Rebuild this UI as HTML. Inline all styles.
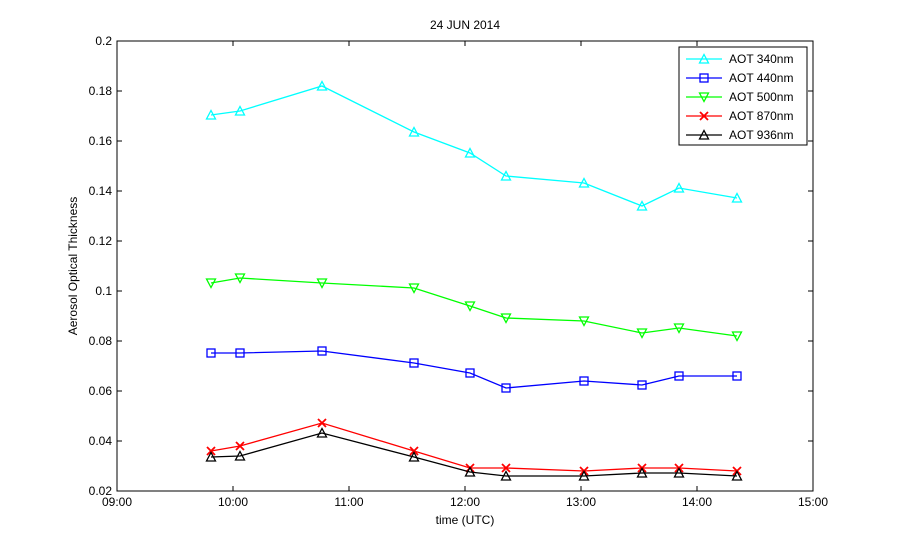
<!DOCTYPE html>
<html><head><style>body{margin:0;background:#fff}svg text{font-family:"Liberation Sans",sans-serif;font-size:12px}</style></head><body>
<svg width="899" height="552" xmlns="http://www.w3.org/2000/svg">
<rect width="899" height="552" fill="#fff"/>
<rect x="117" y="41" width="696" height="450" fill="#fff" stroke="#000" stroke-width="1"/>
<g stroke="#000" stroke-width="1">
<path d="M233,491v-5M349,491v-5M465,491v-5M581,491v-5M697,491v-5M233,41v5M349,41v5M465,41v5M581,41v5M697,41v5"/>
<path d="M117,441h5M117,391h5M117,341h5M117,291h5M117,241h5M117,191h5M117,141h5M117,91h5M813,441h-5M813,391h-5M813,341h-5M813,291h-5M813,241h-5M813,191h-5M813,141h-5M813,91h-5"/>
</g>
<g text-anchor="end">
<text x="112" y="495">0.02</text><text x="112" y="445">0.04</text><text x="112" y="395">0.06</text><text x="112" y="345">0.08</text><text x="112" y="295">0.1</text><text x="112" y="245">0.12</text><text x="112" y="195">0.14</text><text x="112" y="145">0.16</text><text x="112" y="95">0.18</text><text x="112" y="45">0.2</text>
</g>
<g text-anchor="middle">
<text x="117" y="506">09:00</text><text x="233" y="506">10:00</text><text x="349" y="506">11:00</text><text x="465" y="506">12:00</text><text x="581" y="506">13:00</text><text x="697" y="506">14:00</text><text x="813" y="506">15:00</text>
<text x="465" y="524">time  (UTC)</text>
<text x="465" y="29">24 JUN 2014</text>
<text transform="translate(77,266) rotate(-90)">Aerosol Optical Thickness</text>
</g>
<defs>
<path id="tu" d="M-4.5,4h9L0,-4.5z" fill="none" stroke-width="1.3"/>
<path id="td" d="M-4.5,-4h9L0,4.5z" fill="none" stroke-width="1.3"/>
<rect id="sq" x="-4" y="-4" width="8" height="8" fill="none" stroke-width="1.3"/>
<path id="xx" d="M-4,-4L4,4M-4,4L4,-4" stroke-width="1.8"/>
</defs>
<g stroke="#00ffff" stroke-width="1.3" fill="none">
<polyline points="211,115 240,111 322,86 414,132 470,153 506,176 584,183 642,206 679,188 737,198"/>
<use href="#tu" x="211" y="115"/><use href="#tu" x="240" y="111"/><use href="#tu" x="322" y="86"/><use href="#tu" x="414" y="132"/><use href="#tu" x="470" y="153"/><use href="#tu" x="506" y="176"/><use href="#tu" x="584" y="183"/><use href="#tu" x="642" y="206"/><use href="#tu" x="679" y="188"/><use href="#tu" x="737" y="198"/>
</g>
<g stroke="#0000ff" stroke-width="1.3" fill="none">
<polyline points="211,353 240,353 322,351 414,363 470,373 506,388 584,381 642,385 679,376 737,376"/>
<use href="#sq" x="211" y="353"/><use href="#sq" x="240" y="353"/><use href="#sq" x="322" y="351"/><use href="#sq" x="414" y="363"/><use href="#sq" x="470" y="373"/><use href="#sq" x="506" y="388"/><use href="#sq" x="584" y="381"/><use href="#sq" x="642" y="385"/><use href="#sq" x="679" y="376"/><use href="#sq" x="737" y="376"/>
</g>
<g stroke="#00ff00" stroke-width="1.3" fill="none">
<polyline points="211,283 240,278 322,283 414,288 470,306 506,318 584,321 642,333 679,328 737,336"/>
<use href="#td" x="211" y="283"/><use href="#td" x="240" y="278"/><use href="#td" x="322" y="283"/><use href="#td" x="414" y="288"/><use href="#td" x="470" y="306"/><use href="#td" x="506" y="318"/><use href="#td" x="584" y="321"/><use href="#td" x="642" y="333"/><use href="#td" x="679" y="328"/><use href="#td" x="737" y="336"/>
</g>
<g stroke="#ff0000" stroke-width="1.3" fill="none">
<polyline points="211,451 240,446 322,423 414,451 470,468 506,468 584,471 642,468 679,468 737,471"/>
<use href="#xx" x="211" y="451"/><use href="#xx" x="240" y="446"/><use href="#xx" x="322" y="423"/><use href="#xx" x="414" y="451"/><use href="#xx" x="470" y="468"/><use href="#xx" x="506" y="468"/><use href="#xx" x="584" y="471"/><use href="#xx" x="642" y="468"/><use href="#xx" x="679" y="468"/><use href="#xx" x="737" y="471"/>
</g>
<g stroke="#000" stroke-width="1.3" fill="none">
<polyline points="211,457 240,456 322,433 414,457 470,472 506,476 584,476 642,473 679,473 737,476"/>
<use href="#tu" x="211" y="457"/><use href="#tu" x="240" y="456"/><use href="#tu" x="322" y="433"/><use href="#tu" x="414" y="457"/><use href="#tu" x="470" y="472"/><use href="#tu" x="506" y="476"/><use href="#tu" x="584" y="476"/><use href="#tu" x="642" y="473"/><use href="#tu" x="679" y="473"/><use href="#tu" x="737" y="476"/>
</g>
<rect x="679" y="47" width="128" height="98" fill="#fff" stroke="#000"/>
<g stroke-width="1.3" fill="none">
<g stroke="#00ffff"><path d="M686,59h36"/><use href="#tu" x="704" y="59"/></g>
<g stroke="#0000ff"><path d="M686,78h36"/><use href="#sq" x="704" y="78"/></g>
<g stroke="#00ff00"><path d="M686,97h36"/><use href="#td" x="704" y="97"/></g>
<g stroke="#ff0000"><path d="M686,116h36"/><use href="#xx" x="704" y="116"/></g>
<g stroke="#000"><path d="M686,135h36"/><use href="#tu" x="704" y="135"/></g>
</g>
<text x="729" y="63">AOT 340nm</text><text x="729" y="82">AOT 440nm</text><text x="729" y="101">AOT 500nm</text><text x="729" y="120">AOT 870nm</text><text x="729" y="139">AOT 936nm</text>
</svg>
</body></html>
